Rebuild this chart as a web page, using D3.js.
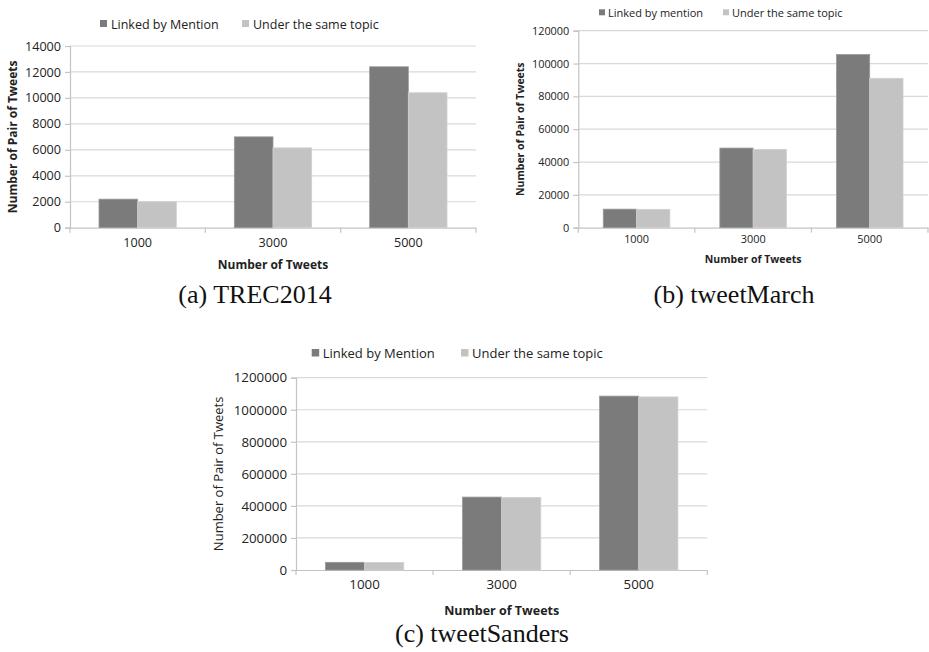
<!DOCTYPE html>
<html><head><meta charset="utf-8">
<script src="https://cdn.jsdelivr.net/npm/d3@7"></script>
<style>
html,body{margin:0;padding:0;background:#fff;}
svg{display:block;}
</style></head>
<body>
<svg id="chart" width="929" height="652"></svg>
<script>
// ---- data ----
const categories = ["1000", "3000", "5000"];
const seriesNames = ["Linked by Mention", "Under the same topic"];
const seriesNamesB = ["Linked by mention", "Under the same topic"];
const trecMention = [2200, 7000, 12400];
const trecTopic = [2000, 6150, 10400];
const marchMention = [11300, 48500, 105500];
const marchTopic = [11200, 47700, 91000];
const sandersMention = [48000, 455000, 1085000];
const sandersTopic = [47000, 453000, 1080000];
const trecTicks = [0, 2000, 4000, 6000, 8000, 10000, 12000, 14000];
const marchTicks = [0, 20000, 40000, 60000, 80000, 100000, 120000];
const sandersTicks = [0, 200000, 400000, 600000, 800000, 1000000, 1200000];
const xTitle = "Number of Tweets";
const yTitle = "Number of Pair of Tweets";
const captions = ["(a) TREC2014", "(b) tweetMarch", "(c) tweetSanders"];

const DARK = "#7b7b7b", LIGHT = "#c3c3c3";
const SANS = "'Open Sans', 'DejaVu Sans', sans-serif";
const SERIF = "'Liberation Serif', 'Times New Roman', serif";

const svg = d3.select("#chart");

function panel(cfg) {
  const g = svg.append("g");
  const x = d3.scaleBand().domain(categories).range([cfg.x0, cfg.x1]).paddingInner(0).paddingOuter(0);
  const y = d3.scaleLinear().domain([0, cfg.ticks[cfg.ticks.length - 1]]).range([cfg.yb, cfg.yt]);
  const inner = d3.scaleBand().domain([0, 1]).range([0, x.bandwidth()]).paddingInner(0).paddingOuter(0.75);

  // gridlines
  g.append("g").selectAll("line").data(cfg.ticks.filter(t => t > 0)).join("line")
    .attr("x1", cfg.x0).attr("x2", cfg.x1)
    .attr("y1", d => y(d)).attr("y2", d => y(d))
    .attr("stroke", "#d9d9d9").attr("stroke-width", 1.2);

  // y axis
  const ya = d3.axisLeft(y).tickValues(cfg.ticks).tickSize(5).tickPadding(4).tickFormat(d3.format("d"));
  const yg = g.append("g").attr("transform", `translate(${cfg.x0},0)`).call(ya);
  yg.select(".domain").attr("stroke", "#c4c4c4").attr("stroke-width", 1.2);
  yg.selectAll(".tick line").attr("stroke", "#c4c4c4").attr("stroke-width", 1.2);
  yg.selectAll(".tick text").attr("font-family", SANS).attr("font-size", cfg.tickFs).attr("fill", "#222");

  // x axis
  const xa = d3.axisBottom(x).tickSize(0).tickPadding(cfg.xLabPad);
  const xg = g.append("g").attr("transform", `translate(0,${cfg.yb})`).call(xa);
  xg.select(".domain").attr("stroke", "#c4c4c4").attr("stroke-width", 1.2);
  xg.selectAll(".tick text").attr("font-family", SANS).attr("font-size", cfg.tickFs).attr("fill", "#222");
  // category boundary ticks
  const bounds = categories.map(c => x(c)).concat([cfg.x1]);
  xg.append("g").selectAll("line").data(bounds).join("line")
    .attr("x1", d => d).attr("x2", d => d).attr("y1", 0).attr("y2", 5)
    .attr("stroke", "#c4c4c4").attr("stroke-width", 1.2);

  // bars
  const series = [cfg.s1, cfg.s2];
  const colors = [DARK, LIGHT];
  series.forEach((vals, si) => {
    g.append("g").selectAll("rect").data(vals).join("rect")
      .attr("x", (d, i) => x(categories[i]) + inner(si))
      .attr("width", inner.bandwidth())
      .attr("y", d => y(d))
      .attr("height", d => cfg.yb - y(d))
      .attr("fill", colors[si])
      .attr("stroke", si === 0 ? "#9a9a9a" : "#d0d0d0").attr("stroke-width", 0.8);
  });

  // axis titles
  g.append("text").attr("x", (cfg.x0 + cfg.x1) / 2).attr("y", cfg.xtY)
    .attr("text-anchor", "middle").attr("font-family", SANS).attr("font-weight", "bold")
    .attr("font-size", cfg.titleFs).attr("fill", "#222").text(xTitle);
  g.append("text").attr("transform", `translate(${cfg.ytX},${(cfg.yt + cfg.yb) / 2}) rotate(-90)`)
    .attr("text-anchor", "middle").attr("font-family", SANS).attr("font-weight", cfg.ytWeight)
    .attr("font-size", cfg.ytFs).attr("fill", "#222").text(yTitle);

  // legend
  cfg.legend.forEach((L, i) => {
    g.append("rect").attr("x", L.sx).attr("y", cfg.legY).attr("width", cfg.legSq).attr("height", cfg.legSq)
      .attr("fill", colors[i]);
    g.append("text").attr("x", L.tx).attr("y", cfg.legBase).attr("font-family", SANS)
      .attr("font-size", cfg.legFs).attr("fill", "#222").text(cfg.names[i]);
  });

  // caption
  g.append("text").attr("x", cfg.capX).attr("y", cfg.capY).attr("text-anchor", "middle")
    .attr("font-family", SERIF).attr("font-size", 26).attr("fill", "#111").text(cfg.caption);
}

panel({
  x0: 70, x1: 476, yt: 46, yb: 227.7, ticks: trecTicks, s1: trecMention, s2: trecTopic,
  tickFs: 12.6, xLabPad: 10, titleFs: 12, xtY: 268.7, ytX: 17, ytFs: 12, ytWeight: "bold",
  legY: 20, legSq: 7, legBase: 29, legFs: 12.5, names: seriesNames,
  legend: [{sx: 100, tx: 111}, {sx: 242, tx: 253}],
  capX: 255, capY: 303, caption: captions[0]
});
panel({
  x0: 578.3, x1: 928, yt: 30.7, yb: 227.7, ticks: marchTicks, s1: marchMention, s2: marchTopic,
  tickFs: 10.9, xLabPad: 8, titleFs: 10.5, xtY: 263, ytX: 524, ytFs: 10.5, ytWeight: "bold",
  legY: 9.3, legSq: 6, legBase: 16.7, legFs: 11, names: seriesNamesB,
  legend: [{sx: 599, tx: 608}, {sx: 723, tx: 732}],
  capX: 734, capY: 303, caption: captions[1]
});
panel({
  x0: 296, x1: 707.3, yt: 377.7, yb: 570, ticks: sandersTicks, s1: sandersMention, s2: sandersTopic,
  tickFs: 13.3, xLabPad: 10, titleFs: 12.5, xtY: 615, ytX: 223, ytFs: 13, ytWeight: "normal",
  legY: 349, legSq: 7.5, legBase: 358, legFs: 13, names: seriesNames,
  legend: [{sx: 311.7, tx: 322.7}, {sx: 461, tx: 472}],
  capX: 482, capY: 642, caption: captions[2]
});
</script>
</body></html>
